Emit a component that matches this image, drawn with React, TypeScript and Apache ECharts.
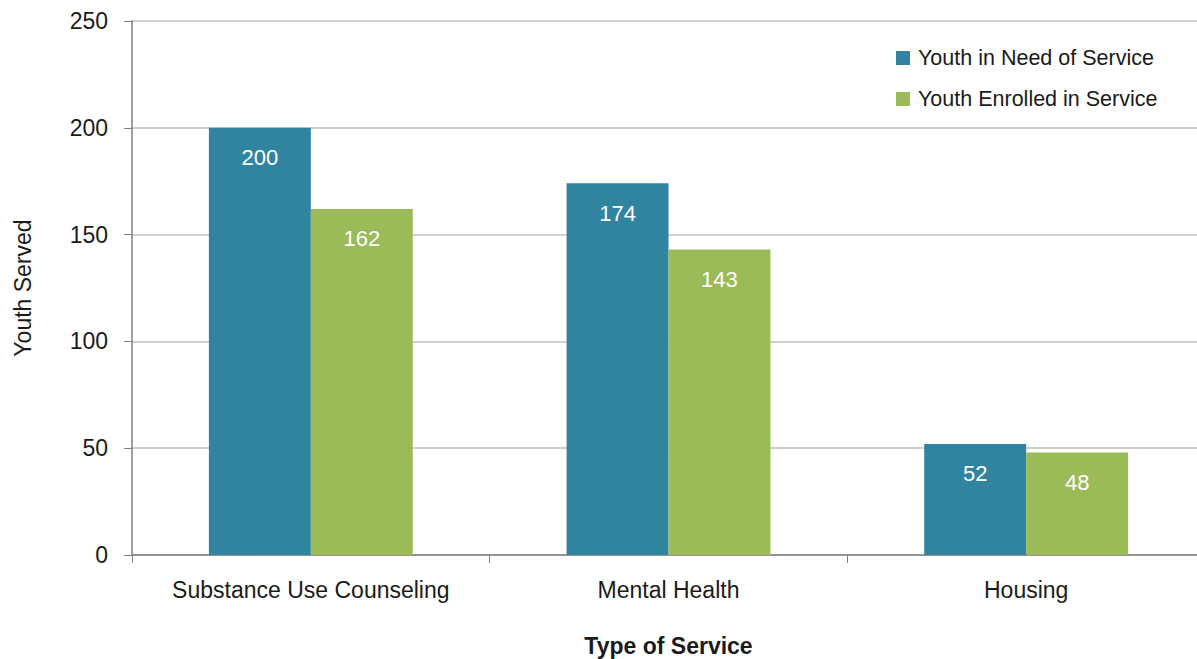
import React, { useEffect, useRef } from "react";
import * as echarts from "echarts";

const categories = ["Substance Use Counseling", "Mental Health", "Housing"];
const needValues = [200, 174, 52];
const enrolledValues = [162, 143, 48];
const seriesNames = ["Youth in Need of Service", "Youth Enrolled in Service"];
const yTicks = { min: 0, max: 250, interval: 50 };

const FONT = "'Liberation Sans', Arial, sans-serif";
const TEXT = "#1a1a1a";

export default function App() {
  const ref = useRef<HTMLDivElement>(null);

  useEffect(() => {
    document.body.style.margin = "0";
    const chart = echarts.init(ref.current!, null, { renderer: "svg" });
    const barLabel = {
      show: true,
      position: "insideTop",
      distance: 19,
      color: "#ffffff",
      fontFamily: FONT,
      fontSize: 22,
    };
    chart.setOption({
      animation: false,
      textStyle: { fontFamily: FONT },
      grid: { left: 132, top: 21, width: 1073, height: 534, outerBoundsMode: "none", containLabel: false },
      legend: {
        orient: "vertical",
        left: 891,
        top: 42,
        itemWidth: 14,
        itemHeight: 14,
        itemGap: 19,
        icon: "rect",
        textStyle: { fontFamily: FONT, fontSize: 21.5, color: TEXT, padding: [0, 0, 0, 3] },
        data: seriesNames,
      },
      xAxis: {
        type: "category",
        data: categories,
        name: "Type of Service",
        nameLocation: "middle",
        nameGap: 79,
        nameTextStyle: { fontFamily: FONT, fontSize: 23, fontWeight: "bold", color: TEXT },
        axisLine: { lineStyle: { color: "#808080", width: 1.5 } },
        axisTick: { show: true, length: 8, alignWithLabel: false, lineStyle: { color: "#808080" } },
        axisLabel: { interval: 0, fontFamily: FONT, fontSize: 23, color: TEXT, margin: 23 },
      },
      yAxis: {
        type: "value",
        min: yTicks.min,
        max: yTicks.max,
        interval: yTicks.interval,
        name: "Youth Served",
        nameLocation: "middle",
        nameGap: 98,
        nameTextStyle: { fontFamily: FONT, fontSize: 23, color: TEXT },
        axisLine: { show: true, lineStyle: { color: "#808080", width: 1.5 } },
        axisTick: { show: true, length: 8, lineStyle: { color: "#808080" } },
        axisLabel: { fontFamily: FONT, fontSize: 23, color: TEXT, margin: 24 },
        splitLine: { lineStyle: { color: "#bfbfbf", width: 1.5 } },
      },
      series: [
        {
          name: seriesNames[0],
          type: "bar",
          data: needValues,
          barWidth: "28.5%",
          barGap: "0%",
          itemStyle: { color: "#31849f" },
          label: barLabel,
        },
        {
          name: seriesNames[1],
          type: "bar",
          data: enrolledValues,
          barWidth: "28.5%",
          barGap: "0%",
          itemStyle: { color: "#9bbb59" },
          label: barLabel,
        },
      ],
    });
    return () => chart.dispose();
  }, []);

  return <div ref={ref} style={{ position: "absolute", left: 0, top: 0, width: 1197, height: 659 }} />;
}
